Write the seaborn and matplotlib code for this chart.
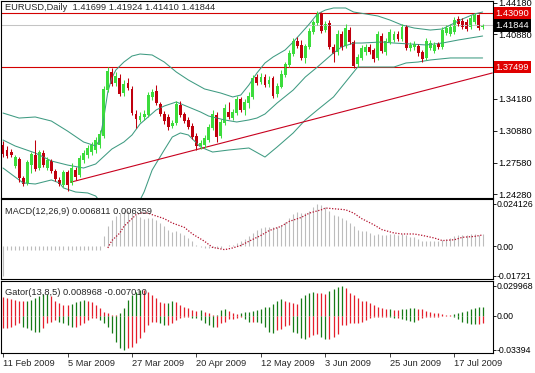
import numpy as np
import matplotlib
matplotlib.use("Agg")
import matplotlib.pyplot as plt
import matplotlib.transforms as mtransforms
import seaborn as sns

# EURUSD daily bars, 11 Feb 2009 (bar 0) .. 28 Jul 2009 (bar 119)
opens = [1.2940, 1.2888, 1.2867, 1.2722, 1.2795, 1.2597, 1.2546, 1.2732, 1.2836, 1.2701,
         1.2857, 1.2701, 1.2774, 1.2670, 1.2577, 1.2525, 1.2660, 1.2546, 1.2680, 1.2628,
         1.2784, 1.2836, 1.2867, 1.2888, 1.2940, 1.3033, 1.3511, 1.3698, 1.3584, 1.3636,
         1.3480, 1.3584, 1.3522, 1.3262, 1.3200, 1.3231, 1.3252, 1.3439, 1.3501, 1.3366,
         1.3262, 1.3231, 1.3137, 1.3169, 1.3355, 1.3262, 1.3200, 1.3137, 1.3033, 1.2930,
         1.2940, 1.2992, 1.3117, 1.3252, 1.3033, 1.3169, 1.3283, 1.3220, 1.3272, 1.3418,
         1.3304, 1.3376, 1.3439, 1.3646, 1.3594, 1.3646, 1.3574, 1.3636, 1.3470, 1.3542,
         1.3667, 1.3771, 1.3885, 1.4020, 1.3979, 1.3844, 1.3958, 1.4114, 1.4207, 1.4311,
         1.4134, 1.4207, 1.3958, 1.3906, 1.4093, 1.3968, 1.4134, 1.4010, 1.3781, 1.3844,
         1.3906, 1.3958, 1.3927, 1.3844, 1.4072, 1.3906, 1.4010, 1.4031, 1.4093, 1.4041,
         1.4166, 1.3947, 1.3958, 1.3968, 1.3906, 1.3844, 1.3947, 1.3916, 1.3989, 1.3958,
         1.4103, 1.4093, 1.4114, 1.4249, 1.4228, 1.4218, 1.4166, 1.4218, 1.4290, 1.41699]
highs = [1.2981, 1.2930, 1.2898, 1.2836, 1.2815, 1.2618, 1.2784, 1.2867, 1.2992, 1.2888,
         1.2888, 1.2815, 1.2795, 1.2691, 1.2608, 1.2680, 1.2680, 1.2753, 1.2712, 1.2836,
         1.2888, 1.2940, 1.2971, 1.3023, 1.3096, 1.3553, 1.3750, 1.3740, 1.3698, 1.3677,
         1.3615, 1.3636, 1.3553, 1.3304, 1.3283, 1.3304, 1.3491, 1.3522, 1.3563, 1.3387,
         1.3293, 1.3262, 1.3200, 1.3397, 1.3397, 1.3283, 1.3231, 1.3169, 1.3065, 1.2992,
         1.3044, 1.3158, 1.3304, 1.3283, 1.3210, 1.3366, 1.3387, 1.3314, 1.3449, 1.3439,
         1.3418, 1.3491, 1.3667, 1.3677, 1.3688, 1.3677, 1.3657, 1.3657, 1.3584, 1.3719,
         1.3802, 1.3927, 1.4051, 1.4062, 1.4031, 1.3989, 1.4155, 1.4238, 1.4332, 1.4321,
         1.4228, 1.4238, 1.3989, 1.4134, 1.4124, 1.4197, 1.4166, 1.4031, 1.3885, 1.3979,
         1.3989, 1.3989, 1.3947, 1.4124, 1.4103, 1.4051, 1.4145, 1.4124, 1.4124, 1.4197,
         1.4186, 1.4010, 1.4020, 1.3989, 1.3927, 1.4051, 1.4031, 1.4010, 1.4010, 1.4166,
         1.4186, 1.4197, 1.4269, 1.4280, 1.4259, 1.4249, 1.4290, 1.4311, 1.4301, 1.41924]
lows = [1.2815, 1.2805, 1.2815, 1.2701, 1.2556, 1.2514, 1.2525, 1.2649, 1.2670, 1.2680,
        1.2712, 1.2680, 1.2649, 1.2566, 1.2514, 1.2504, 1.2462, 1.2525, 1.2577, 1.2608,
        1.2753, 1.2805, 1.2836, 1.2857, 1.2909, 1.3013, 1.3491, 1.3553, 1.3553, 1.3449,
        1.3449, 1.3511, 1.3252, 1.3117, 1.3179, 1.3200, 1.3231, 1.3407, 1.3355, 1.3241,
        1.3158, 1.3096, 1.3117, 1.3148, 1.3231, 1.3169, 1.3106, 1.3002, 1.2888, 1.2898,
        1.2909, 1.2971, 1.3096, 1.2971, 1.3013, 1.3148, 1.3210, 1.3200, 1.3252, 1.3283,
        1.3252, 1.3324, 1.3418, 1.3563, 1.3574, 1.3542, 1.3542, 1.3428, 1.3439, 1.3532,
        1.3646, 1.3750, 1.3864, 1.3947, 1.3823, 1.3792, 1.3937, 1.4093, 1.4186, 1.4103,
        1.4114, 1.3937, 1.3802, 1.3875, 1.3927, 1.3947, 1.3989, 1.3740, 1.3750, 1.3823,
        1.3875, 1.3885, 1.3802, 1.3823, 1.3896, 1.3875, 1.3989, 1.4010, 1.4020, 1.4020,
        1.3927, 1.3916, 1.3927, 1.3864, 1.3802, 1.3823, 1.3927, 1.3896, 1.3937, 1.3937,
        1.4082, 1.4072, 1.4093, 1.4176, 1.4145, 1.4124, 1.4145, 1.4197, 1.4134, 1.41410]
closes = [1.2847, 1.2826, 1.2836, 1.2815, 1.2597, 1.2535, 1.2763, 1.2847, 1.2691, 1.2867,
          1.2732, 1.2784, 1.2670, 1.2587, 1.2535, 1.2660, 1.2525, 1.2701, 1.2608, 1.2805,
          1.2857, 1.2909, 1.2940, 1.2992, 1.3054, 1.3522, 1.3709, 1.3574, 1.3657, 1.3470,
          1.3574, 1.3532, 1.3272, 1.3210, 1.3241, 1.3262, 1.3459, 1.3491, 1.3376, 1.3262,
          1.3189, 1.3127, 1.3169, 1.3366, 1.3252, 1.3189, 1.3127, 1.3023, 1.2930, 1.2961,
          1.3013, 1.3127, 1.3262, 1.3023, 1.3179, 1.3324, 1.3231, 1.3283, 1.3418, 1.3304,
          1.3387, 1.3449, 1.3636, 1.3584, 1.3646, 1.3563, 1.3615, 1.3449, 1.3553, 1.3677,
          1.3781, 1.3896, 1.4020, 1.3968, 1.3844, 1.3968, 1.4124, 1.4218, 1.4311, 1.4124,
          1.4197, 1.3958, 1.3885, 1.4093, 1.3958, 1.4155, 1.4010, 1.3761, 1.3854, 1.3947,
          1.3958, 1.3906, 1.3833, 1.4093, 1.3916, 1.4020, 1.4114, 1.4093, 1.4041, 1.4166,
          1.3947, 1.3979, 1.3989, 1.3896, 1.3833, 1.4020, 1.3999, 1.3979, 1.3958, 1.4134,
          1.4155, 1.4166, 1.4238, 1.4197, 1.4166, 1.4145, 1.4259, 1.4290, 1.4155, 1.41844]

# Bollinger bands (20,2)
up_bars = [0, 4, 8, 12, 16, 20, 23, 24, 25, 26, 27, 28, 30, 32, 34, 37, 40, 43, 46, 50,
           54, 57, 59, 61, 63, 65, 67, 70, 72, 74, 76, 78, 80, 82, 85, 87, 90, 93, 96, 99,
           102, 106, 109, 111, 114, 117, 119]
up_vals = [1.3272, 1.3220, 1.3231, 1.3189, 1.3085, 1.2971, 1.2930, 1.2992, 1.3220, 1.3491,
           1.3636, 1.3719, 1.3802, 1.3864, 1.3885, 1.3875, 1.3802, 1.3698, 1.3615, 1.3522,
           1.3480, 1.3439, 1.3459, 1.3563, 1.3688, 1.3792, 1.3854, 1.3927, 1.4010, 1.4103,
           1.4197, 1.4301, 1.4342, 1.4363, 1.4363, 1.4321, 1.4301, 1.4280, 1.4238, 1.4186,
           1.4155, 1.4134, 1.4145, 1.4186, 1.4249, 1.4301, 1.4321]
mid_bars = [0, 3, 8, 12, 16, 20, 23, 27, 30, 32, 34, 38, 40, 43, 46, 49, 51, 55, 58, 61,
            63, 65, 68, 72, 75, 78, 82, 84, 87, 89, 94, 97, 105, 109, 113, 119]
mid_vals = [1.2992, 1.2930, 1.2857, 1.2774, 1.2732, 1.2701, 1.2743, 1.2898, 1.2971, 1.3044,
            1.3158, 1.3304, 1.3345, 1.3387, 1.3335, 1.3283, 1.3241, 1.3200, 1.3179, 1.3200,
            1.3220, 1.3262, 1.3376, 1.3511, 1.3646, 1.3750, 1.3896, 1.3958, 1.3999, 1.3999,
            1.4010, 1.3999, 1.3979, 1.3999, 1.4031, 1.4072]
low_bars = [0, 3, 5, 8, 12, 14, 15, 18, 21, 23, 26, 28, 30, 32, 34, 35, 37, 40, 42, 44,
            46, 49, 52, 56, 61, 65, 68, 72, 75, 78, 82, 86, 88, 91, 97, 100, 103, 106, 111, 119]
low_vals = [1.2701, 1.2608, 1.2546, 1.2535, 1.2577, 1.2546, 1.2494, 1.2452, 1.2442, 1.2410,
            1.2244, 1.2120, 1.2140, 1.2223, 1.2369, 1.2452, 1.2680, 1.2888, 1.3023, 1.3065,
            1.3044, 1.2919, 1.2867, 1.2888, 1.2909, 1.2815, 1.2919, 1.3065, 1.3200, 1.3304,
            1.3439, 1.3646, 1.3750, 1.3750, 1.3750, 1.3792, 1.3802, 1.3823, 1.3844, 1.3844]

# drawn objects
trend_bars = [17, 121.4]
trend_prices = [1.2556, 1.3688]
level_lines = [1.43090, 1.37499]
bid = 1.41844
price_ticks = [1.44180, 1.40880, 1.34180, 1.30880, 1.27580, 1.24280]

# MACD(12,26,9)
macd = [-0.01721, -0.0021, -0.0022, -0.0021, -0.0021, -0.0022, -0.0021, -0.0021, -0.0022, -0.0021,
        -0.0021, -0.0022, -0.0021, -0.0021, -0.0022, -0.0021, -0.0021, -0.0022, -0.0021, -0.0021,
        -0.0022, -0.0021, -0.0021, -0.0022, -0.0021, 0.0055, 0.0113, 0.0151, 0.0170, 0.0189,
        0.0199, 0.0202, 0.0195, 0.0180, 0.0164, 0.0157, 0.0160, 0.0160, 0.0151, 0.0132,
        0.0113, 0.0094, 0.0080, 0.0084, 0.0074, 0.0061, 0.0046, 0.0027, 0.0008, -0.0006,
        -0.0011, -0.0011, -0.0004, -0.0011, -0.0011, -0.0002, 0.0004, 0.0008, 0.0017, 0.0027,
        0.0038, 0.0055, 0.0074, 0.0090, 0.0103, 0.0107, 0.0111, 0.0107, 0.0107, 0.0118,
        0.0138, 0.0160, 0.0183, 0.0195, 0.0191, 0.0191, 0.0202, 0.0222, 0.024126, 0.0237,
        0.0225, 0.0199, 0.0180, 0.0170, 0.0160, 0.0151, 0.0132, 0.0113, 0.0094, 0.0084,
        0.0084, 0.0074, 0.0061, 0.0069, 0.0065, 0.0065, 0.0069, 0.0069, 0.0065, 0.0069,
        0.0061, 0.0053, 0.0050, 0.0042, 0.0031, 0.0031, 0.0027, 0.0027, 0.0027, 0.0034,
        0.0042, 0.0046, 0.0055, 0.0061, 0.0061, 0.0065, 0.0069, 0.0069, 0.0065, 0.006811]
sig_bars = [26, 27, 29, 30, 32, 33, 34, 36, 37, 40, 42, 45, 47, 50, 52, 55, 57, 59, 61, 64,
            66, 69, 71, 74, 76, 79, 80, 83, 85, 87, 89, 92, 94, 97, 99, 102, 104, 107, 109, 112,
            114, 117, 119]
sig_vals = [-0.0011, 0.0031, 0.0075, 0.0113, 0.0157, 0.0180, 0.0189, 0.0189, 0.0180, 0.0157,
            0.0132, 0.0107, 0.0069, 0.0027, -0.0008, -0.0021, -0.0011, 0.0003, 0.0027, 0.0061,
            0.0088, 0.0113, 0.0141, 0.0164, 0.0189, 0.0208, 0.0218, 0.0212, 0.0208, 0.0189,
            0.0157, 0.0122, 0.0094, 0.0075, 0.0069, 0.0069, 0.0061, 0.0046, 0.0031, 0.0036,
            0.0050, 0.0055, 0.006359]

# Gator(13,8,5)
gator_up = [0.0190, 0.0173, 0.0167, 0.0157, 0.0150, 0.0145, 0.0148, 0.0160, 0.0180, 0.0200,
            0.0215, 0.0220, 0.0195, 0.0150, 0.0125, 0.0110, 0.0105, 0.0120, 0.0135, 0.0148,
            0.0157, 0.0150, 0.0140, 0.0107, 0.0073, 0.0040, 0.0023, 0.0007, 0.0007, 0.0023,
            0.0073, 0.0157, 0.0207, 0.0240, 0.0257, 0.0255, 0.0240, 0.0207, 0.0173, 0.0140,
            0.0123, 0.0125, 0.0147, 0.0140, 0.0107, 0.0090, 0.0073, 0.0057, 0.0047, 0.0057,
            0.0040, 0.0023, 0.0007, 0.0009, 0.0057, 0.0067, 0.0047, 0.0023, 0.0020, 0.0030,
            0.0040, 0.0041, 0.0050, 0.0057, 0.0063, 0.0083, 0.0090, 0.0117, 0.0150, 0.0163,
            0.0150, 0.0140, 0.0130, 0.0117, 0.0173, 0.0206, 0.0230, 0.0240, 0.0230, 0.0223,
            0.0216, 0.0250, 0.0263, 0.0283, 0.029968, 0.0273, 0.0230, 0.0206, 0.0173, 0.0150,
            0.0148, 0.0130, 0.0107, 0.0090, 0.0073, 0.0063, 0.0064, 0.0057, 0.0056, 0.0063,
            0.0064, 0.0073, 0.0074, 0.0072, 0.0063, 0.0050, 0.0040, 0.0030, 0.0023, 0.0013,
            0.0007, 0.0006, 0.0013, 0.0023, 0.0040, 0.0050, 0.0063, 0.0073, 0.0083, 0.008968]
gator_down = [-0.0127, -0.0120, -0.0110, -0.0093, -0.0077, -0.0110, -0.0127, -0.0143, -0.0160, -0.0162,
              -0.0127, -0.0077, -0.0060, -0.0043, -0.0060, -0.0077, -0.0093, -0.0110, -0.0108, -0.0093,
              -0.0077, -0.0043, -0.0027, -0.0025, -0.0043, -0.0077, -0.0110, -0.0177, -0.0260, -0.0327,
              -0.03394, -0.0327, -0.0310, -0.0277, -0.0227, -0.0160, -0.0093, -0.0060, -0.0058, -0.0077,
              -0.0093, -0.0092, -0.0077, -0.0043, -0.0027, -0.0010, -0.0009, -0.0020, -0.0027, -0.0043,
              -0.0077, -0.0093, -0.0110, -0.0108, -0.0077, -0.0060, -0.0033, -0.0032, -0.0020, -0.0013,
              -0.0037, -0.0060, -0.0059, -0.0060, -0.0070, -0.0110, -0.0160, -0.0170, -0.0143, -0.0137,
              -0.0103, -0.0093, -0.0160, -0.0177, -0.0226, -0.0236, -0.0216, -0.0193, -0.0183, -0.0216,
              -0.0236, -0.0235, -0.0216, -0.0183, -0.0093, -0.0092, -0.0077, -0.0076, -0.0075, -0.0060,
              -0.0043, -0.0027, -0.0017, -0.0010, -0.0010, -0.0009, -0.0017, -0.0027, -0.0026, -0.0037,
              -0.0043, -0.0050, -0.0060, -0.0043, -0.0027, -0.0017, -0.0010, -0.0009, -0.0008, -0.0003,
              -0.0003, -0.0002, -0.0010, -0.0037, -0.0060, -0.0077, -0.0083, -0.0084, -0.0082, -0.007010]

date_ticks = [0, 16, 32, 48, 64, 80, 96, 112]
date_labels = ["11 Feb 2009", "5 Mar 2009", "27 Mar 2009", "20 Apr 2009",
               "12 May 2009", "3 Jun 2009", "25 Jun 2009", "17 Jul 2009"]

bull = "#3cdc3c"
bear = "#c0000e"
band_col = "#3f9b82"
line_red = "#d40000"
gator_green = "#167a16"
gator_red = "#e41e2a"

sns.set_style("white")
plt.rcParams["font.family"] = ["Liberation Sans", "DejaVu Sans"]
plt.rcParams["font.size"] = 6.7

W, H = 535, 373
fig = plt.figure(figsize=(W / 100, H / 100), dpi=100)


def panel(top, bottom):
    return fig.add_axes([1 / W, 1 - bottom / H, 491.5 / W, (bottom - top) / H])


ax_p = panel(1, 197.5)
ax_m = panel(199, 279)
ax_g = panel(281, 353)

bars = np.arange(len(closes))
o = np.array(opens)
c = np.array(closes)
cols = np.where(c >= o, bull, bear)

# price panel
ax_p.axhline(bid, color="#c4c4c4", lw=0.75)
for lvl in level_lines:
    ax_p.axhline(lvl, color=line_red, lw=0.8)
for xs, ys in [(up_bars, up_vals), (mid_bars, mid_vals), (low_bars, low_vals)]:
    sns.lineplot(x=xs, y=ys, ax=ax_p, color=band_col, lw=0.75, estimator=None, sort=False)
sns.lineplot(x=trend_bars, y=trend_prices, ax=ax_p, color="#c8001e", lw=0.8,
             estimator=None, sort=False)
ax_p.vlines(bars, lows, highs, colors=cols, lw=0.75)
ax_p.bar(bars, np.maximum(np.abs(c - o), 0.00015), bottom=np.minimum(o, c),
         width=0.72, color=cols, lw=0)
ax_p.set_ylim(1.23948, 1.44356)
ax_p.set_yticks(price_ticks)
ax_p.set_yticklabels([f"{v:.5f}" for v in price_ticks])
ax_p.text(0.008, 0.99, "EURUSD,Daily  1.41699 1.41924 1.41410 1.41844",
          transform=ax_p.transAxes, ha="left", va="top")

trans = mtransforms.blended_transform_factory(ax_p.transAxes, ax_p.transData)
for val, bg in [(1.43090, "#e00000"), (bid, "black"), (1.37499, "#e00000")]:
    ax_p.text(1.006, val, f"{val:.5f}", transform=trans, ha="left", va="center",
              color="white", clip_on=False,
              bbox=dict(boxstyle="square,pad=0.2", fc=bg, ec="none"))

# MACD panel
ax_m.vlines(bars, 0, macd, colors="#bcbcbc", lw=0.8)
sns.lineplot(x=sig_bars, y=sig_vals, ax=ax_m, color="#b3122e", lw=0.9,
             linestyle=(0, (1, 1.3)), estimator=None, sort=False)
ax_m.set_ylim(-0.01894, 0.02698)
ax_m.set_yticks([0.024126, 0.0, -0.01721])
ax_m.set_yticklabels(["0.024126", "0.00", "-0.01721"])
ax_m.text(0.008, 0.85, "MACD(12,26,9) 0.006811 0.006359", transform=ax_m.transAxes,
          ha="left", va="center")

# Gator panel
gu = np.array(gator_up)
gd = np.array(gator_down)
up_cols = np.where(np.r_[False, gu[1:] > gu[:-1]], gator_green, gator_red)
dn_cols = np.where(np.r_[False, np.abs(gd[1:]) > np.abs(gd[:-1])], gator_green, gator_red)
ax_g.vlines(bars, 0, gu, colors=up_cols, lw=0.9)
ax_g.vlines(bars, gd, 0, colors=dn_cols, lw=0.9)
ax_g.set_ylim(-0.03726, 0.0347)
ax_g.set_yticks([0.029968, 0.0, -0.03394])
ax_g.set_yticklabels(["0.029968", "0.00", "-0.03394"])
ax_g.text(0.008, 0.8375, "Gator(13,8,5) 0.008968 -0.007010", transform=ax_g.transAxes,
          ha="left", va="center")

for ax in (ax_p, ax_m, ax_g):
    ax.set_xlim(-0.5, 121.45)
    ax.set_xlabel("")
    ax.set_ylabel("")
    ax.yaxis.tick_right()
    ax.tick_params(axis="y", length=3, width=0.6, pad=1.2, labelsize=6.7, colors="black")
    for s in ax.spines.values():
        s.set_color("black")
        s.set_linewidth(0.8)
for ax in (ax_p, ax_m):
    ax.tick_params(axis="x", bottom=False, labelbottom=False)
# the long indicator scale labels sit tight against the right edge
for ax in (ax_m, ax_g):
    ax.tick_params(axis="y", length=2.5, pad=0.6, labelsize=6.3)

ax_g.set_xticks(date_ticks)
ax_g.set_xticklabels(date_labels, ha="left")
ax_g.tick_params(axis="x", bottom=True, length=3, width=0.6, pad=1.5, labelsize=6.7)

fig.savefig("out.png", dpi=100, facecolor="white")
